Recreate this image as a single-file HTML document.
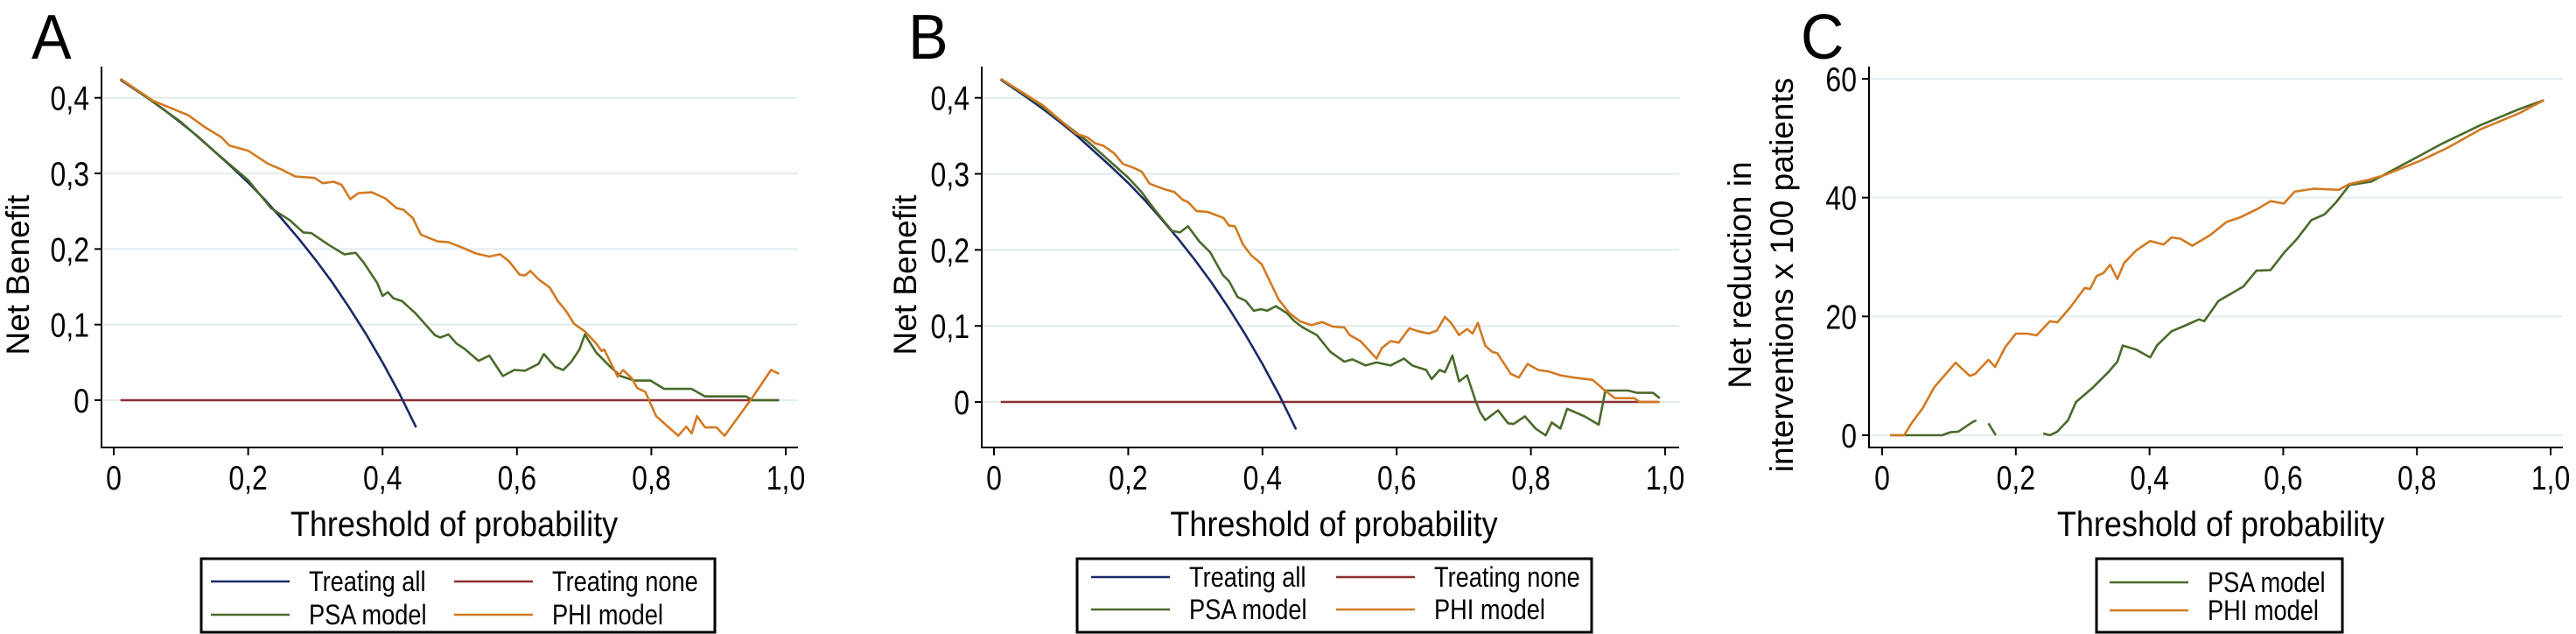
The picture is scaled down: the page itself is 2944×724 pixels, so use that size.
<!DOCTYPE html>
<html><head><meta charset="utf-8">
<style>
html,body{margin:0;padding:0;background:#fff;}
svg{display:block;font-family:"Liberation Sans",Arial,sans-serif;}
</style></head>
<body>
<svg id="fig" width="2944" height="724" viewBox="0 0 2944 724" xmlns="http://www.w3.org/2000/svg">
<rect x="0" y="0" width="2944" height="724" fill="#fff"/>
</svg>
<script>
// ---------- Panel A data ----------
const tAllX = [0.01,0.025,0.05,0.075,0.10,0.125,0.15,0.175,0.20,0.225,0.25,0.275,0.30,0.325,0.35,0.375,0.40,0.425,0.45];
const tAllY = [0.424,0.415,0.400,0.384,0.367,0.349,0.329,0.309,0.288,0.265,0.240,0.214,0.186,0.156,0.123,0.088,0.050,0.009,-0.036];
const tNoneX = [0.01,0.99];
const tNoneY = [0,0];
const aPsaX = [0.01,0.05,0.10,0.15,0.2,0.234,0.262,0.282,0.294,0.319,0.343,0.36,0.372,0.392,0.40,0.408,0.416,0.429,0.449,0.478,0.486,0.498,0.51,0.522,0.543,0.559,0.579,0.596,0.612,0.632,0.64,0.657,0.669,0.681,0.693,0.701,0.718,0.738,0.754,0.775,0.799,0.819,0.86,0.88,0.941,0.95,0.99];
const aPsaY = [0.425,0.400,0.368,0.329,0.291,0.254,0.238,0.222,0.221,0.206,0.193,0.195,0.182,0.155,0.138,0.143,0.135,0.131,0.115,0.086,0.083,0.087,0.075,0.068,0.052,0.059,0.032,0.040,0.039,0.048,0.061,0.044,0.040,0.051,0.067,0.087,0.063,0.045,0.032,0.026,0.026,0.015,0.015,0.005,0.005,0.0,0.0];
const aPhiX = [0.01,0.059,0.111,0.136,0.16,0.172,0.2,0.229,0.25,0.27,0.299,0.311,0.327,0.339,0.352,0.364,0.384,0.404,0.421,0.431,0.445,0.457,0.482,0.498,0.518,0.539,0.559,0.575,0.588,0.604,0.612,0.62,0.632,0.649,0.661,0.673,0.685,0.701,0.718,0.726,0.73,0.742,0.75,0.758,0.771,0.779,0.791,0.807,0.84,0.852,0.86,0.868,0.88,0.897,0.909,0.95,0.978,0.99];
const aPhiY = [0.425,0.396,0.377,0.361,0.348,0.337,0.330,0.313,0.305,0.296,0.294,0.287,0.289,0.285,0.266,0.274,0.275,0.267,0.254,0.252,0.241,0.219,0.210,0.209,0.202,0.194,0.190,0.193,0.184,0.166,0.165,0.171,0.160,0.149,0.131,0.118,0.101,0.091,0.075,0.065,0.067,0.045,0.031,0.040,0.029,0.016,0.011,-0.021,-0.047,-0.035,-0.044,-0.021,-0.036,-0.036,-0.047,0.003,0.040,0.035];
// ---------- Panel B data ----------
const bPsaX = [0.01,0.065,0.139,0.2,0.22,0.24,0.265,0.277,0.289,0.306,0.322,0.341,0.35,0.363,0.375,0.387,0.398,0.407,0.42,0.436,0.448,0.46,0.481,0.501,0.522,0.534,0.554,0.57,0.591,0.611,0.623,0.644,0.652,0.664,0.672,0.683,0.693,0.705,0.717,0.724,0.732,0.751,0.766,0.774,0.791,0.807,0.822,0.831,0.844,0.854,0.88,0.901,0.911,0.945,0.958,0.982,0.992];
const bPsaY = [0.425,0.393,0.343,0.295,0.276,0.252,0.225,0.223,0.231,0.211,0.197,0.167,0.159,0.138,0.133,0.120,0.122,0.120,0.126,0.117,0.106,0.098,0.088,0.066,0.053,0.056,0.048,0.052,0.048,0.057,0.048,0.042,0.030,0.042,0.039,0.061,0.027,0.035,0.003,-0.013,-0.024,-0.011,-0.028,-0.029,-0.019,-0.035,-0.044,-0.027,-0.035,-0.009,-0.019,-0.030,0.015,0.015,0.012,0.012,0.005];
const bPhiX = [0.01,0.073,0.122,0.139,0.151,0.163,0.179,0.192,0.208,0.22,0.232,0.244,0.257,0.269,0.281,0.289,0.302,0.318,0.342,0.35,0.359,0.371,0.383,0.399,0.412,0.424,0.44,0.456,0.473,0.489,0.505,0.522,0.53,0.546,0.57,0.578,0.591,0.603,0.619,0.632,0.648,0.66,0.672,0.681,0.693,0.705,0.713,0.721,0.732,0.742,0.75,0.77,0.782,0.795,0.811,0.827,0.844,0.864,0.892,0.909,0.925,0.954,0.962,0.992];
const bPhiY = [0.425,0.390,0.353,0.348,0.340,0.337,0.327,0.313,0.308,0.303,0.287,0.283,0.279,0.276,0.266,0.263,0.251,0.250,0.242,0.232,0.231,0.207,0.193,0.181,0.157,0.135,0.117,0.106,0.101,0.105,0.099,0.098,0.088,0.080,0.057,0.071,0.080,0.078,0.097,0.093,0.090,0.094,0.112,0.104,0.088,0.096,0.090,0.104,0.074,0.066,0.064,0.037,0.032,0.050,0.042,0.040,0.035,0.032,0.029,0.016,0.005,0.005,0.0,0.0];
// ---------- Panel C data (null = gap) ----------
const cPsaX = [0.012,0.09,0.102,0.114,0.135,0.141,null,0.159,0.17,null,0.241,0.251,0.262,0.278,0.29,0.315,0.339,0.352,0.36,0.38,0.401,0.411,0.433,0.454,0.474,0.482,0.503,0.54,0.56,0.581,0.601,0.621,0.642,0.662,0.679,0.699,0.732,0.765,0.805,0.838,0.895,0.953,0.99];
const cPsaY = [0,0,0.5,0.6,2.2,2.5,null,2.0,0,null,0.3,0,0.6,2.5,5.6,8.0,10.7,12.4,15.1,14.4,13.1,15.1,17.5,18.5,19.5,19.2,22.6,25.0,27.7,27.8,30.7,33.1,36.2,37.2,39.2,42.1,42.7,44.7,47.1,49.1,52.2,54.9,56.4];
const cPhiX = [0.012,0.033,0.045,0.061,0.078,0.11,0.131,0.139,0.159,0.169,0.184,0.2,0.217,0.231,0.251,0.262,0.282,0.303,0.311,0.321,0.331,0.341,0.352,0.362,0.38,0.401,0.421,0.433,0.446,0.464,0.491,0.515,0.536,0.56,0.581,0.601,0.617,0.646,0.683,0.699,0.728,0.752,0.805,0.846,0.895,0.953,0.99];
const cPhiY = [0,0,2.2,4.6,8.1,12.2,10.0,10.3,12.7,11.5,14.8,17.1,17.1,16.8,19.2,19.0,21.6,24.8,24.6,26.8,27.3,28.7,26.3,29.0,31.1,32.7,32.1,33.3,33.1,31.9,33.7,35.9,36.7,38.0,39.4,39.0,41.0,41.5,41.3,42.3,43.0,43.8,46.2,48.4,51.5,54.2,56.4];
// ---------- tick labels ----------
const xTickVals = [0,0.2,0.4,0.6,0.8,1.0];
const xTickLabels = ["0","0,2","0,4","0,6","0,8","1,0"];
const nbTickVals = [0,0.1,0.2,0.3,0.4];
const nbTickLabels = ["0","0,1","0,2","0,3","0,4"];
const cTickVals = [0,20,40,60];
const cTickLabels = ["0","20","40","60"];

const NS = "http://www.w3.org/2000/svg";
const svg = document.getElementById('fig');
const COL = {all:"#1a2a66", none:"#8b2f35", psa:"#4b6a2c", phi:"#d27a22"};

function el(tag, attrs, parent){
  const e = document.createElementNS(NS, tag);
  for (const k in attrs) e.setAttribute(k, attrs[k]);
  (parent||svg).appendChild(e);
  return e;
}
function text(parent, x, y, str, size, anchor, sx, rot){
  const t = el('text', {x:0, y:0, 'font-size':size, 'text-anchor':anchor, fill:'#000',
    transform:'translate(' + x + ',' + y + ')' + (rot ? ' rotate(' + rot + ')' : '') + ' scale(' + sx + ',1)'}, parent);
  t.textContent = str;
  return t;
}

function panel(cfg){
  const g = el('g', {});
  
  
  const xs = v => cfg.x0 + (cfg.x1 - cfg.x0) * v;
  const ys = v => cfg.yz + (cfg.yt - cfg.yz) * (v - cfg.yv0) / (cfg.yv1 - cfg.yv0);
  cfg.yTicks.forEach((v,i) => {
    const gl = el('line', {x1:cfg.ax+2, x2:cfg.right, y1:ys(v), y2:ys(v), stroke:'#e4ecee', 'stroke-width':2}, g);
    
    
  });
  const ya = el('line', {x1:cfg.ax, x2:cfg.ax, y1:76, y2:512, stroke:'#000', 'stroke-width':2}, g);
  
  
  const xa = el('line', {x1:cfg.ax, x2:cfg.right, y1:511, y2:511, stroke:'#000', 'stroke-width':2}, g);
  
  
  cfg.yTicks.forEach((v,i) => {
    el('line', {x1:cfg.ax-8, x2:cfg.ax, y1:ys(v), y2:ys(v), stroke:'#000', 'stroke-width':2}, g);
    const t = text(g, cfg.ax-14, ys(v)+14, cfg.yLabels[i], 39, 'end', 0.82);
    
    
  });
  xTickVals.forEach((v,i) => {
    el('line', {x1:xs(v), x2:xs(v), y1:511, y2:520, stroke:'#000', 'stroke-width':2}, g);
    const t = text(g, xs(v), 559, xTickLabels[i], 39, 'middle', 0.82);
    
    
  });
  cfg.series.forEach(s => {
    let d = '', pen = false;
    for (let i = 0; i < s.x.length; i++){
      if (s.x[i] === null || s.y[i] === null){ pen = false; continue; }
      d += (pen ? 'L' : 'M') + xs(s.x[i]).toFixed(1) + ',' + ys(s.y[i]).toFixed(1);
      pen = true;
    }
    const p = el('path', {d:d, fill:'none', stroke:s.c, 'stroke-width':2.6, 'stroke-linejoin':'round'}, g);
    
    
  });
  const L = text(g, cfg.letterX, 67, cfg.letter, 72, 'start', 0.95);
  
  
  const xt = text(g, (cfg.x0+cfg.x1)/2 + 5, 612, 'Threshold of probability', 40, 'middle', 0.9);
  
  
  cfg.yTitle.forEach(tt => {
    const yt = text(g, tt.x, 314, tt.s, 37, 'middle', 1, -90);
    
    
  });
  const lg = el('g', {}, g);
  
  
  el('rect', {x:cfg.leg.x, y:638, width:cfg.leg.w, height:84, fill:'#fff', stroke:'#000', 'stroke-width':3}, lg);
  cfg.leg.items.forEach(it => {
    const eg = el('g', {}, lg);
    
    
    el('line', {x1:it.lx, x2:it.lx+90, y1:it.y, y2:it.y, stroke:it.c, 'stroke-width':2.6}, eg);
    text(eg, it.lx+112, it.y+11, it.s, 32, 'start', 0.85);
  });
}

panel({name:'panel-a', letter:'A', letterX:36, ax:116, right:912, x0:130, x1:898, yz:457, yt:111.7, yv0:0, yv1:0.4,
  yTicks:nbTickVals, yLabels:nbTickLabels,
  yTitle:[{x:33, s:'Net Benefit'}],
  series:[{n:'treating-none-line',x:tNoneX,y:tNoneY,c:COL.none},{n:'treating-all-line',x:tAllX,y:tAllY,c:COL.all},
          {n:'psa-model-line',x:aPsaX,y:aPsaY,c:COL.psa},{n:'phi-model-line',x:aPhiX,y:aPhiY,c:COL.phi}],
  leg:{x:230, w:587, items:[{lx:241,y:664,c:COL.all,s:'Treating all'},{lx:519,y:664,c:COL.none,s:'Treating none'},
                            {lx:241,y:702,c:COL.psa,s:'PSA model'},{lx:519,y:702,c:COL.phi,s:'PHI model'}]}});

panel({name:'panel-b', letter:'B', letterX:1038, ax:1122, right:1919, x0:1136, x1:1903, yz:459, yt:111.7, yv0:0, yv1:0.4,
  yTicks:nbTickVals, yLabels:nbTickLabels,
  yTitle:[{x:1047, s:'Net Benefit'}],
  series:[{n:'treating-none-line',x:tNoneX,y:tNoneY,c:COL.none},{n:'treating-all-line',x:tAllX,y:tAllY,c:COL.all},
          {n:'psa-model-line',x:bPsaX,y:bPsaY,c:COL.psa},{n:'phi-model-line',x:bPhiX,y:bPhiY,c:COL.phi}],
  leg:{x:1231, w:588, items:[{lx:1247,y:659,c:COL.all,s:'Treating all'},{lx:1527,y:659,c:COL.none,s:'Treating none'},
                             {lx:1247,y:696,c:COL.psa,s:'PSA model'},{lx:1527,y:696,c:COL.phi,s:'PHI model'}]}});

panel({name:'panel-c', letter:'C', letterX:2058, ax:2136, right:2929, x0:2151, x1:2915, yz:497, yt:90, yv0:0, yv1:60,
  yTicks:cTickVals, yLabels:cTickLabels,
  yTitle:[{x:2001, s:'Net reduction in'},{x:2049, s:'interventions x 100 patients'}],
  series:[{n:'psa-model-line',x:cPsaX,y:cPsaY,c:COL.psa},{n:'phi-model-line',x:cPhiX,y:cPhiY,c:COL.phi}],
  leg:{x:2396, w:281, items:[{lx:2411,y:665,c:COL.psa,s:'PSA model'},{lx:2411,y:697,c:COL.phi,s:'PHI model'}]}});
</script>
</body></html>
